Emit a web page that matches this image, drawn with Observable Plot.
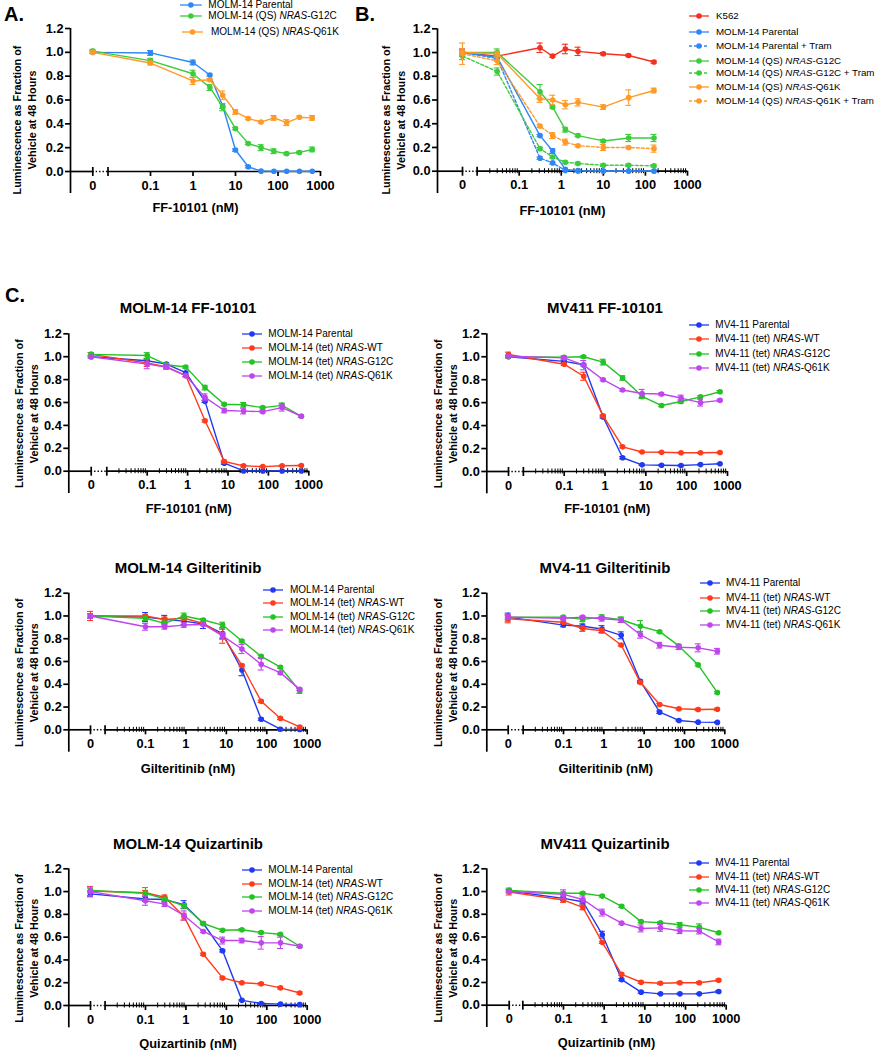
<!DOCTYPE html>
<html><head><meta charset="utf-8">
<script src="https://cdn.jsdelivr.net/npm/d3@7"></script>
<script src="https://cdn.jsdelivr.net/npm/@observablehq/plot@0.6"></script>
<style>
body{margin:0;background:#fff;}
#page{position:relative;width:877px;height:1050px;overflow:hidden;font-family:"Liberation Sans",Arial,sans-serif;color:#000;}
.abs{position:absolute;}
.letter{font-weight:bold;font-size:20px;line-height:1;transform:translateY(-50%);}
.ptitle{font-weight:bold;font-size:15px;line-height:1;white-space:nowrap;transform:translate(-50%,-50%);}
.legt{font-size:10px;line-height:1;white-space:nowrap;transform:translateY(-50%);}
.legt.small{font-size:9.75px;}
.legm{transform:translateY(-50%);}
.plotbox{position:absolute;}
</style></head><body><div id="page"></div>
<script>
// ---------------- data ----------------
const Y_TICKS = [0, 0.2, 0.4, 0.6, 0.8, 1.0, 1.2];
const X_TICKS = [0, 0.1, 1, 10, 100, 1000];
const Y_TITLE = "Luminescence as Fraction of\nVehicle at 48 Hours";

// Panel A
const DOSE_A = [0, 0.1, 1, 2.5, 5, 10, 20, 40, 80, 160, 320, 640];
const LABELS_A = ["MOLM-14 Parental", "MOLM-14 (QS) NRAS-G12C", "MOLM-14 (QS) NRAS-Q61K"];
const A_PAR = [1.0, 0.995, 0.915, 0.81, 0.55, 0.18, 0.04, 0.003, 0.002, 0.002, 0.002, 0.002];
const A_G12C = [1.01, 0.93, 0.82, 0.705, 0.54, 0.36, 0.235, 0.20, 0.17, 0.15, 0.16, 0.185];
const A_Q61K = [1.0, 0.91, 0.76, 0.77, 0.64, 0.50, 0.445, 0.415, 0.45, 0.41, 0.455, 0.45];
const A_PAR_E = [0.01, 0.02, 0.02, 0.01, 0.02, 0.01, 0.01, 0, 0, 0, 0, 0];
const A_G12C_E = [0.015, 0.02, 0.03, 0.025, 0.03, 0.01, 0.01, 0.025, 0.02, 0.01, 0.01, 0.02];
const A_Q61K_E = [0.01, 0.015, 0.03, 0.01, 0.035, 0.02, 0.01, 0.01, 0.02, 0.025, 0.01, 0.02];

// Panel B
const DOSE_B = [0, 0.03, 0.3125, 0.625, 1.25, 2.5, 10, 40, 160];
const LABELS_B = ["K562", "MOLM-14 Parental", "MOLM-14 Parental + Tram", "MOLM-14 (QS) NRAS-G12C",
  "MOLM-14 (QS) NRAS-G12C + Tram", "MOLM-14 (QS) NRAS-Q61K", "MOLM-14 (QS) NRAS-Q61K + Tram"];
const B_K562 = [1.0, 0.97, 1.04, 0.97, 1.03, 1.01, 0.99, 0.975, 0.92];
const B_PAR = [1.0, 0.96, 0.30, 0.17, 0.015, 0.005, 0.002, 0.002, 0.002];
const B_PAR_T = [1.0, 0.95, 0.11, 0.07, 0.005, 0.002, 0.002, 0.002, 0.002];
const B_G12C = [1.0, 1.0, 0.67, 0.54, 0.35, 0.30, 0.255, 0.28, 0.28];
const B_G12C_T = [0.97, 0.84, 0.19, 0.12, 0.076, 0.065, 0.05, 0.05, 0.045];
const B_Q61K = [1.0, 0.99, 0.61, 0.60, 0.56, 0.58, 0.54, 0.62, 0.68];
const B_Q61K_T = [0.99, 0.93, 0.38, 0.30, 0.245, 0.215, 0.20, 0.20, 0.19];
const B_K562_E = [0.03, 0.01, 0.04, 0.01, 0.04, 0.035, 0.01, 0.01, 0.01];
const B_PAR_E = [0.02, 0.02, 0.01, 0.02, 0.01, 0, 0, 0, 0];
const B_PAR_T_E = [0.02, 0.02, 0.01, 0.01, 0, 0, 0, 0, 0];
const B_G12C_E = [0.02, 0.03, 0.06, 0.01, 0.02, 0.01, 0.01, 0.03, 0.03];
const B_G12C_T_E = [0.03, 0.03, 0.01, 0.01, 0.01, 0.01, 0.01, 0.01, 0.01];
const B_Q61K_E = [0.02, 0.02, 0.03, 0.04, 0.035, 0.03, 0.02, 0.065, 0.02];
const B_Q61K_T_E = [0.09, 0.03, 0.01, 0.025, 0.025, 0.01, 0.025, 0.01, 0.03];

// Panel C (all six)
const DOSE_C = [0, 0.1, 0.3, 0.9, 2.7, 8.1, 24.3, 72.9, 218.7, 656.1];
const LABELS_MOLM = ["MOLM-14 Parental", "MOLM-14 (tet) NRAS-WT", "MOLM-14 (tet) NRAS-G12C", "MOLM-14 (tet) NRAS-Q61K"];
const LABELS_MV = ["MV4-11 Parental", "MV4-11 (tet) NRAS-WT", "MV4-11 (tet) NRAS-G12C", "MV4-11 (tet) NRAS-Q61K"];
const C_TITLES = ["MOLM-14 FF-10101", "MV411 FF-10101", "MOLM-14 Gilteritinib", "MV4-11 Gilteritinib", "MOLM-14 Quizartinib", "MV411 Quizartinib"];

const C1_PAR = [1.0, 0.965, 0.935, 0.86, 0.61, 0.07, 0.002, 0.002, 0.002, 0.002];
const C1_WT = [1.02, 0.945, 0.91, 0.835, 0.44, 0.085, 0.047, 0.04, 0.047, 0.05];
const C1_G12C = [1.02, 1.01, 0.93, 0.91, 0.73, 0.585, 0.58, 0.555, 0.575, 0.48];
const C1_Q61K = [1.0, 0.935, 0.91, 0.835, 0.645, 0.53, 0.525, 0.52, 0.555, 0.48];
const C1_PAR_E = [0.01, 0.02, 0.01, 0.01, 0.01, 0.01, 0, 0, 0, 0];
const C1_WT_E = [0.015, 0.03, 0.01, 0.01, 0.01, 0.01, 0.01, 0.005, 0.005, 0.005];
const C1_G12C_E = [0.015, 0.025, 0.01, 0.01, 0.02, 0.01, 0.02, 0.01, 0.02, 0.01];
const C1_Q61K_E = [0.01, 0.04, 0.02, 0.01, 0.03, 0.02, 0.025, 0.01, 0.03, 0.01];

const C2_PAR = [1.0, 0.96, 0.93, 0.475, 0.12, 0.058, 0.055, 0.052, 0.06, 0.067];
const C2_WT = [1.02, 0.935, 0.83, 0.485, 0.215, 0.17, 0.168, 0.163, 0.163, 0.165];
const C2_G12C = [1.0, 0.995, 1.0, 0.953, 0.815, 0.655, 0.575, 0.61, 0.65, 0.695];
const C2_Q61K = [1.005, 0.99, 0.927, 0.80, 0.71, 0.68, 0.675, 0.64, 0.60, 0.62];
const C2_PAR_E = [0.01, 0.01, 0.01, 0.01, 0.01, 0.005, 0.005, 0.005, 0.005, 0.005];
const C2_WT_E = [0.02, 0.01, 0.035, 0.01, 0.01, 0.005, 0.005, 0.005, 0.005, 0.005];
const C2_G12C_E = [0.01, 0.015, 0.01, 0.025, 0.02, 0.02, 0.01, 0.015, 0.01, 0.01];
const C2_Q61K_E = [0.01, 0.01, 0.04, 0.01, 0.01, 0.035, 0.01, 0.025, 0.03, 0.01];

const C3_PAR = [1.0, 0.99, 0.97, 0.955, 0.93, 0.845, 0.525, 0.093, 0.005, 0.002];
const C3_WT = [1.0, 1.0, 0.97, 0.98, 0.935, 0.83, 0.565, 0.25, 0.10, 0.025];
const C3_G12C = [1.0, 0.98, 0.935, 1.0, 0.965, 0.92, 0.78, 0.645, 0.55, 0.34];
const C3_Q61K = [1.0, 0.905, 0.905, 0.92, 0.925, 0.825, 0.71, 0.575, 0.50, 0.355];
const C3_PAR_E = [0.02, 0.04, 0.035, 0.03, 0.04, 0.04, 0.05, 0.01, 0.005, 0];
const C3_WT_E = [0.04, 0.01, 0.02, 0.02, 0.01, 0.07, 0.01, 0.01, 0.01, 0.01];
const C3_G12C_E = [0.02, 0.02, 0.02, 0.025, 0.01, 0.025, 0.01, 0.01, 0.01, 0.02];
const C3_Q61K_E = [0.02, 0.03, 0.02, 0.02, 0.01, 0.03, 0.04, 0.05, 0.01, 0.01];

const C4_PAR = [0.99, 0.92, 0.91, 0.885, 0.83, 0.425, 0.155, 0.082, 0.067, 0.065];
const C4_WT = [0.975, 0.945, 0.89, 0.87, 0.745, 0.415, 0.222, 0.185, 0.178, 0.18];
const C4_G12C = [0.99, 0.99, 0.97, 0.99, 0.967, 0.91, 0.862, 0.737, 0.57, 0.327];
const C4_Q61K = [0.99, 0.98, 0.99, 0.975, 0.965, 0.835, 0.743, 0.725, 0.72, 0.69];
const C4_PAR_E = [0.035, 0.015, 0.02, 0.03, 0.03, 0.01, 0.01, 0.005, 0.005, 0.005];
const C4_WT_E = [0.035, 0.01, 0.025, 0.02, 0.01, 0.01, 0.01, 0.01, 0.01, 0.01];
const C4_G12C_E = [0.01, 0.01, 0.02, 0.02, 0.025, 0.05, 0.01, 0.01, 0.01, 0.01];
const C4_Q61K_E = [0.02, 0.01, 0.01, 0.02, 0.02, 0.03, 0.025, 0.02, 0.035, 0.025];

const C5_PAR = [0.98, 0.935, 0.93, 0.885, 0.72, 0.48, 0.045, 0.018, 0.012, 0.008];
const C5_WT = [1.005, 0.99, 0.95, 0.78, 0.45, 0.242, 0.20, 0.19, 0.155, 0.11];
const C5_G12C = [1.01, 0.985, 0.935, 0.875, 0.72, 0.66, 0.665, 0.64, 0.625, 0.52];
const C5_Q61K = [1.0, 0.92, 0.89, 0.79, 0.65, 0.57, 0.57, 0.55, 0.55, 0.52];
const C5_PAR_E = [0.025, 0.02, 0.02, 0.035, 0.01, 0.01, 0.005, 0.005, 0.005, 0];
const C5_WT_E = [0.04, 0.02, 0.02, 0.03, 0.01, 0.01, 0.01, 0.01, 0.01, 0.01];
const C5_G12C_E = [0.02, 0.05, 0.01, 0.02, 0.01, 0.01, 0.01, 0.01, 0.01, 0.01];
const C5_Q61K_E = [0.04, 0.04, 0.02, 0.04, 0.01, 0.03, 0.02, 0.055, 0.05, 0.01];

const C6_PAR = [1.005, 0.94, 0.91, 0.62, 0.225, 0.115, 0.10, 0.10, 0.10, 0.12];
const C6_WT = [0.995, 0.925, 0.86, 0.553, 0.272, 0.202, 0.193, 0.198, 0.198, 0.22];
const C6_G12C = [1.01, 0.985, 0.985, 0.96, 0.87, 0.735, 0.725, 0.708, 0.685, 0.637];
const C6_Q61K = [1.0, 0.975, 0.93, 0.815, 0.722, 0.675, 0.68, 0.655, 0.652, 0.556];
const C6_PAR_E = [0.01, 0.02, 0.02, 0.03, 0.01, 0.01, 0.005, 0.005, 0.005, 0.01];
const C6_WT_E = [0.025, 0.02, 0.02, 0.01, 0.01, 0.01, 0.01, 0.01, 0.01, 0.01];
const C6_G12C_E = [0.02, 0.01, 0.01, 0.01, 0.01, 0.01, 0.01, 0.02, 0.03, 0.01];
const C6_Q61K_E = [0.01, 0.04, 0.03, 0.03, 0.01, 0.03, 0.03, 0.025, 0.025, 0.025];

// ---------------- styles ----------------
const FONT = "'Liberation Sans', Arial, sans-serif";
const AB_BLUE = "#2f87f5", AB_GREEN = "#3ccc3c", AB_ORANGE = "#ff9a28", AB_RED = "#f5301f";
const C_BLUE = "#1f3af2", C_RED = "#ff3b1c", C_GREEN = "#22c322", C_PURPLE = "#bf45ee";

// minor log ticks (axis decoration)
const MINOR_TICKS = [];
for (let e = -2; e <= 2; e++) for (let k = 2; k <= 9; k++) MINOR_TICKS.push(+(k * Math.pow(10, e)).toPrecision(3));

// ---------------- layout (page pixels) ----------------
const G_A = {boxL:0, boxT:0, boxR:335, boxB:218, yAxisX:70, zeroX:92.3, x01:150, x1000:320, y12:28, y0:171, yBot:193, xTitleY:207, ytDx:-47, ytDy:9, minor:false, xTitle:"FF-10101 (nM)"};
const G_B = {boxL:378, boxT:0, boxR:705, boxB:218, yAxisX:437, zeroX:462, x01:518.7, x1000:687, y12:28.3, y0:170.7, yBot:193, xTitleY:210, ytDx:-45, ytDy:9, minor:true, xTitle:"FF-10101 (nM)"};
const G_C = [
  {boxL:0, boxT:318, boxR:330, boxB:520, yAxisX:68.3, zeroX:90.7, x01:146.7, x1000:308.3, y12:333.3, y0:470.7, yBot:493, xTitleY:508, ytDx:-43, ytDy:0, minor:true, xTitle:"FF-10101 (nM)", tx:188, ty:306.7},
  {boxL:425, boxT:318, boxR:745, boxB:520, yAxisX:486.3, zeroX:508, x01:563.7, x1000:727, y12:333.3, y0:471, yBot:493.3, xTitleY:508.3, ytDx:-42, ytDy:0, minor:true, xTitle:"FF-10101 (nM)", tx:605, ty:306.7},
  {boxL:0, boxT:578, boxR:330, boxB:780, yAxisX:68.3, zeroX:90, x01:145, x1000:306.7, y12:592.7, y0:729.3, yBot:751.7, xTitleY:768.3, ytDx:-43, ytDy:0, minor:true, xTitle:"Gilteritinib (nM)", tx:188, ty:566.7},
  {boxL:425, boxT:578, boxR:745, boxB:780, yAxisX:486.3, zeroX:507.7, x01:563, x1000:724.3, y12:592.7, y0:729.3, yBot:751.7, xTitleY:768.3, ytDx:-42, ytDy:0, minor:true, xTitle:"Gilteritinib (nM)", tx:605, ty:566.7},
  {boxL:0, boxT:855, boxR:330, boxB:1050, yAxisX:68.3, zeroX:90, x01:145, x1000:306.7, y12:868.3, y0:1005, yBot:1027.3, xTitleY:1043, ytDx:-43, ytDy:0, minor:true, xTitle:"Quizartinib (nM)", tx:188, ty:843.3},
  {boxL:425, boxT:855, boxR:745, boxB:1050, yAxisX:486.3, zeroX:508.7, x01:563, x1000:725.7, y12:868.3, y0:1004.7, yBot:1027, xTitleY:1042.3, ytDx:-42, ytDy:0, minor:true, xTitle:"Quizartinib (nM)", tx:605, ty:843.3}
];
const LEG_A = {mx1:[180,180,182], mx2:[201.7,201.7,203], tx:[208.3,208.3,211], rows:[4.7,16,32.3]};
const LEG_B = {mx1:688.7, mx2:708.7, tx:716, rows:[16,32.3,46,60.7,72.7,87.3,101], small:true};
const LEG_C = [
  {mx1:241.7, mx2:261.7, tx:268.3, rows:[334.3,348.3,361.7,376]},
  {mx1:688.7, mx2:708.7, tx:715.3, rows:[325,339.3,354,368.3]},
  {mx1:263, mx2:283, tx:290, rows:[590,602.7,617.3,630]},
  {mx1:700, mx2:720, tx:726, rows:[583.3,597.7,610.7,625]},
  {mx1:241.7, mx2:261.7, tx:268.3, rows:[870,884,897.3,910.7]},
  {mx1:688.7, mx2:708.7, tx:715.3, rows:[863.3,876.7,890,903.3]}
];

const page = document.getElementById("page");

function panel(g, doses, series) {
  const dec = (g.x1000 - g.x01) / 4;
  const tLeft = -1 - (g.x01 - g.yAxisX) / dec;
  const tZero = -1 - (g.x01 - g.zeroX) / dec;
  const tBreak = -2;
  const unit = (g.y0 - g.y12) / 1.2;
  const yBot = -(g.yBot - g.y0) / unit;
  const tx = d => d === 0 ? tZero : Math.log10(d);
  const py = p => p / unit;
  const capW = 3 / dec;
  const marks = [
    Plot.ruleX([tLeft], {x: d => d, y1: yBot, y2: 1.2, stroke: "#000", strokeWidth: 1.7}),
    Plot.axisY({ticks: Y_TICKS, tickFormat: d3.format(".1f"), tickSize: 5, tickPadding: 2, strokeWidth: 1.7, label: null, fontSize: 12.8}),
    Plot.ruleY([[tLeft, tZero], [tBreak, 3]], {x1: d => d[0], x2: d => d[1], y: 0, stroke: "#000", strokeWidth: 1.7}),
    Plot.ruleY([[tZero, tBreak]], {x1: d => d[0], x2: d => d[1], y: 0, stroke: "#000", strokeWidth: 1.4, strokeDasharray: "1.4,2"}),
    Plot.ruleX([tZero, tBreak], {x: d => d, y1: py(4), y2: -py(5), stroke: "#000", strokeWidth: 1.7}),
    Plot.ruleX(X_TICKS.slice(1), {x: tx, y1: 0, y2: -py(5), stroke: "#000", strokeWidth: 1.7}),
  ];
  if (g.minor) marks.push(Plot.ruleX(MINOR_TICKS, {x: tx, y1: py(2.5), y2: -py(2.5), stroke: "#000", strokeWidth: 1}));
  marks.push(Plot.text(X_TICKS, {x: tx, y: 0, dy: 14, text: d => String(d), lineAnchor: "middle", fontSize: 12.8}));
  marks.push(Plot.text([g.xTitle], {frameAnchor: "bottom", dy: g.xTitleY - g.yBot, text: d => d, lineAnchor: "middle", fontSize: 12.8}));
  marks.push(Plot.text([Y_TITLE], {frameAnchor: "left", dx: g.ytDx, dy: g.ytDy, rotate: -90, text: d => d, lineAnchor: "middle", textAnchor: "middle", lineHeight: 1.4, fontSize: 10.8}));
  series.forEach(s => {
    const rows = doses.map((d, i) => ({x: tx(d), v: s.values[i], e: s.err[i]}));
    const er = rows.filter(r => r.e > 0);
    const dash = s.dash ? {strokeDasharray: "3,2"} : {};
    marks.push(Plot.line(rows, {x: "x", y: "v", stroke: s.color, strokeWidth: 1.4, ...dash}));
    marks.push(Plot.ruleX(er, {x: "x", y1: r => r.v - r.e, y2: r => r.v + r.e, stroke: s.color, strokeWidth: 1.1}));
    marks.push(Plot.ruleY(er, {y: r => r.v + r.e, x1: r => r.x - capW, x2: r => r.x + capW, stroke: s.color, strokeWidth: 1.1}));
    marks.push(Plot.ruleY(er, {y: r => r.v - r.e, x1: r => r.x - capW, x2: r => r.x + capW, stroke: s.color, strokeWidth: 1.1}));
    marks.push(Plot.dot(rows, {x: "x", y: "v", r: 2.8, fill: s.color}));
  });
  const svg = Plot.plot({
    width: g.boxR - g.boxL, height: g.boxB - g.boxT,
    marginLeft: g.yAxisX - g.boxL, marginRight: g.boxR - g.x1000,
    marginTop: g.y12 - g.boxT, marginBottom: g.boxB - g.yBot,
    x: {type: "linear", domain: [tLeft, 3], axis: null},
    y: {domain: [yBot, 1.2]},
    style: {fontFamily: FONT, fontWeight: "bold", fontSize: "12.8px", background: "transparent", color: "#000", overflow: "visible"},
    marks
  });
  svg.classList.add("plotbox");
  svg.style.left = g.boxL + "px";
  svg.style.top = g.boxT + "px";
  page.appendChild(svg);
}

function legend(L, labels, series) {
  labels.forEach((lab, i) => {
    const mx1 = Array.isArray(L.mx1) ? L.mx1[i] : L.mx1;
    const mx2 = Array.isArray(L.mx2) ? L.mx2[i] : L.mx2;
    const tx = Array.isArray(L.tx) ? L.tx[i] : L.tx;
    const y = L.rows[i];
    const s = series[i];
    const w = mx2 - mx1;
    const m = document.createElement("div");
    m.className = "abs legm";
    m.style.left = mx1 + "px"; m.style.top = y + "px"; m.style.height = "8px";
    m.innerHTML = `<svg width="${w}" height="8" style="display:block"><line x1="0" x2="${w}" y1="4" y2="4" stroke="${s.color}" stroke-width="1.3" ${s.dash ? 'stroke-dasharray="3,2"' : ''}/><circle cx="${w/2}" cy="4" r="2.8" fill="${s.color}"/></svg>`;
    page.appendChild(m);
    const t = document.createElement("div");
    t.className = "abs legt" + (L.small ? " small" : "");
    t.style.left = tx + "px"; t.style.top = y + "px";
    t.innerHTML = lab.replace("NRAS", "<i>NRAS</i>");
    page.appendChild(t);
  });
}

function addText(cls, txt, x, y) {
  const d = document.createElement("div");
  d.className = "abs " + cls;
  d.style.left = x + "px"; d.style.top = y + "px";
  d.textContent = txt;
  page.appendChild(d);
}

// Panel A
const SER_A = [
  {values: A_PAR, err: A_PAR_E, color: AB_BLUE},
  {values: A_G12C, err: A_G12C_E, color: AB_GREEN},
  {values: A_Q61K, err: A_Q61K_E, color: AB_ORANGE}
];
panel(G_A, DOSE_A, SER_A);
legend(LEG_A, LABELS_A, SER_A);
addText("letter", "A.", 4, 14);

// Panel B
const SER_B = [
  {values: B_K562, err: B_K562_E, color: AB_RED},
  {values: B_PAR, err: B_PAR_E, color: AB_BLUE},
  {values: B_PAR_T, err: B_PAR_T_E, color: AB_BLUE, dash: true},
  {values: B_G12C, err: B_G12C_E, color: AB_GREEN},
  {values: B_G12C_T, err: B_G12C_T_E, color: AB_GREEN, dash: true},
  {values: B_Q61K, err: B_Q61K_E, color: AB_ORANGE},
  {values: B_Q61K_T, err: B_Q61K_T_E, color: AB_ORANGE, dash: true}
];
panel(G_B, DOSE_B, SER_B);
legend(LEG_B, LABELS_B, SER_B);
addText("letter", "B.", 355, 14);

// Panel C
addText("letter", "C.", 5, 295);
const C_DATA = [
  [[C1_PAR, C1_PAR_E], [C1_WT, C1_WT_E], [C1_G12C, C1_G12C_E], [C1_Q61K, C1_Q61K_E]],
  [[C2_PAR, C2_PAR_E], [C2_WT, C2_WT_E], [C2_G12C, C2_G12C_E], [C2_Q61K, C2_Q61K_E]],
  [[C3_PAR, C3_PAR_E], [C3_WT, C3_WT_E], [C3_G12C, C3_G12C_E], [C3_Q61K, C3_Q61K_E]],
  [[C4_PAR, C4_PAR_E], [C4_WT, C4_WT_E], [C4_G12C, C4_G12C_E], [C4_Q61K, C4_Q61K_E]],
  [[C5_PAR, C5_PAR_E], [C5_WT, C5_WT_E], [C5_G12C, C5_G12C_E], [C5_Q61K, C5_Q61K_E]],
  [[C6_PAR, C6_PAR_E], [C6_WT, C6_WT_E], [C6_G12C, C6_G12C_E], [C6_Q61K, C6_Q61K_E]]
];
const C_COLORS = [C_BLUE, C_RED, C_GREEN, C_PURPLE];
C_DATA.forEach((sets, k) => {
  const ser = sets.map((p, i) => ({values: p[0], err: p[1], color: C_COLORS[i]}));
  panel(G_C[k], DOSE_C, ser);
  legend(LEG_C[k], k % 2 === 0 ? LABELS_MOLM : LABELS_MV, ser);
  addText("ptitle", C_TITLES[k], G_C[k].tx, G_C[k].ty);
});
</script></body></html>
